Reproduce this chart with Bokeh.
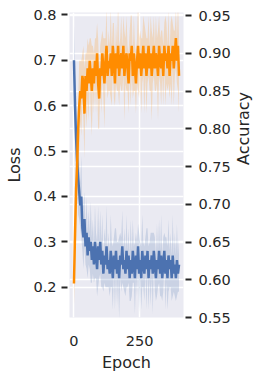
import math
from bokeh.plotting import figure
from bokeh.models import Range1d, LinearAxis, FixedTicker, Grid, PrintfTickFormatter
from bokeh.embed import file_html
from bokeh.resources import INLINE

epochs = [0, 4, 8, 12, 16, 20, 24, 28, 32, 36,
          40, 44, 48, 52, 56, 60, 64, 68, 72, 76,
          80, 84, 88, 92, 96, 100, 104, 108, 112, 116,
          120, 124, 128, 132, 136, 140, 144, 148, 152, 156,
          160, 164, 168, 172, 176, 180, 184, 188, 192, 196,
          200, 204, 208, 212, 216, 220, 224, 228, 232, 236,
          240, 244, 248, 252, 256, 260, 264, 268, 272, 276,
          280, 284, 288, 292, 296, 300, 304, 308, 312, 316,
          320, 324, 328, 332, 336, 340, 344, 348, 352, 356,
          360, 364, 368, 372, 376, 380, 384, 388, 392, 396,
          400]

loss_mean = [0.70, 0.60, 0.53, 0.48, 0.44, 0.41, 0.38, 0.40, 0.33, 0.31,
             0.35, 0.29, 0.32, 0.27, 0.31, 0.28, 0.30, 0.26, 0.29, 0.25,
             0.30, 0.27, 0.24, 0.29, 0.26, 0.30, 0.25, 0.28, 0.23, 0.27,
             0.25, 0.29, 0.24, 0.26, 0.23, 0.28, 0.25, 0.22, 0.27, 0.24,
             0.28, 0.23, 0.26, 0.22, 0.27, 0.25, 0.29, 0.24, 0.26, 0.23,
             0.28, 0.24, 0.27, 0.22, 0.26, 0.23, 0.28, 0.25, 0.22, 0.27,
             0.24, 0.29, 0.23, 0.26, 0.22, 0.28, 0.25, 0.23, 0.27, 0.24,
             0.28, 0.22, 0.26, 0.24, 0.27, 0.23, 0.28, 0.25, 0.22, 0.26,
             0.24, 0.28, 0.23, 0.27, 0.22, 0.25, 0.28, 0.23, 0.26, 0.22,
             0.27, 0.24, 0.26, 0.22, 0.27, 0.23, 0.25, 0.22, 0.26, 0.23,
             0.25]

loss_err = [0.08, 0.07, 0.10, 0.06, 0.08, 0.06, 0.05, 0.09, 0.05, 0.07,
            0.06, 0.04, 0.08, 0.05, 0.06, 0.04, 0.09, 0.05, 0.06, 0.04,
            0.08, 0.05, 0.06, 0.09, 0.04, 0.07, 0.05, 0.08, 0.04, 0.06,
            0.05, 0.09, 0.04, 0.06, 0.05, 0.08, 0.05, 0.07, 0.04, 0.09,
            0.05, 0.07, 0.04, 0.09, 0.05, 0.06, 0.08, 0.04, 0.07, 0.05,
            0.08, 0.04, 0.06, 0.05, 0.09, 0.05, 0.07, 0.04, 0.08, 0.05,
            0.06, 0.05, 0.09, 0.04, 0.07, 0.08, 0.05, 0.06, 0.04, 0.09,
            0.05, 0.07, 0.04, 0.08, 0.05, 0.09, 0.04, 0.06, 0.05, 0.08,
            0.04, 0.07, 0.05, 0.09, 0.05, 0.06, 0.04, 0.08, 0.05, 0.07,
            0.08, 0.04, 0.06, 0.05, 0.09, 0.04, 0.07, 0.05, 0.08, 0.04,
            0.06]

acc_mean = [0.595, 0.66, 0.72, 0.75, 0.80, 0.83, 0.85, 0.84, 0.87, 0.86,
            0.82, 0.87, 0.85, 0.88, 0.86, 0.89, 0.87, 0.85, 0.88, 0.86,
            0.89, 0.87, 0.90, 0.86, 0.84, 0.88, 0.87, 0.90, 0.88, 0.86,
            0.89, 0.91, 0.87, 0.89, 0.88, 0.90, 0.87, 0.91, 0.89, 0.86,
            0.90, 0.88, 0.91, 0.87, 0.89, 0.90, 0.88, 0.91, 0.87, 0.89,
            0.90, 0.88, 0.86, 0.90, 0.89, 0.91, 0.87, 0.90, 0.88, 0.86,
            0.89, 0.91, 0.88, 0.90, 0.87, 0.89, 0.91, 0.88, 0.90, 0.87,
            0.89, 0.91, 0.88, 0.90, 0.87, 0.89, 0.91, 0.88, 0.90, 0.89,
            0.87, 0.91, 0.89, 0.88, 0.90, 0.87, 0.91, 0.89, 0.90, 0.88,
            0.91, 0.87, 0.90, 0.89, 0.91, 0.88, 0.90, 0.92, 0.89, 0.91,
            0.87]

acc_err = [0.03, 0.05, 0.07, 0.05, 0.04, 0.06, 0.04, 0.05, 0.03, 0.05,
           0.06, 0.03, 0.05, 0.04, 0.05, 0.03, 0.05, 0.06, 0.03, 0.04,
           0.03, 0.05, 0.04, 0.06, 0.04, 0.03, 0.05, 0.03, 0.04, 0.06,
           0.03, 0.05, 0.03, 0.04, 0.03, 0.06, 0.04, 0.03, 0.05, 0.03,
           0.04, 0.03, 0.06, 0.04, 0.03, 0.05, 0.03, 0.04, 0.06, 0.03,
           0.05, 0.03, 0.04, 0.03, 0.06, 0.04, 0.03, 0.05, 0.03, 0.04,
           0.03, 0.06, 0.04, 0.03, 0.05, 0.03, 0.04, 0.06, 0.03, 0.05,
           0.03, 0.04, 0.03, 0.05, 0.06, 0.03, 0.04, 0.03, 0.05, 0.03,
           0.06, 0.04, 0.03, 0.05, 0.03, 0.04, 0.03, 0.06, 0.04, 0.03,
           0.05, 0.03, 0.04, 0.06, 0.03, 0.05, 0.03, 0.04, 0.03, 0.06,
           0.05]

x_ticks = [0, 250]
loss_ticks = [0.2, 0.3, 0.4, 0.5, 0.6, 0.7, 0.8]
acc_ticks = [0.55, 0.60, 0.65, 0.70, 0.75, 0.80, 0.85, 0.90, 0.95]

loss_lo = [m - e for m, e in zip(loss_mean, loss_err)]
loss_hi = [m + e for m, e in zip(loss_mean, loss_err)]
acc_lo = [m - e for m, e in zip(acc_mean, acc_err)]
acc_hi = [m + e for m, e in zip(acc_mean, acc_err)]

BLUE = "#4c72b0"
ORANGE = "#ff8c00"
TXT = "#262626"
FONT = "DejaVu Sans"

p = figure(frame_width=114, frame_height=305,
           x_range=Range1d(-17, 417), y_range=Range1d(0.1334, 0.805),
           output_backend="svg", toolbar_location=None,
           min_border_left=69, min_border_right=73,
           min_border_top=12, min_border_bottom=56,
           background_fill_color="#eaeaf2", border_fill_color="white",
           outline_line_color=None)
p.extra_y_ranges = {"acc": Range1d(0.55, 0.954)}

# grids
p.xgrid.ticker = FixedTicker(ticks=x_ticks)
p.ygrid.ticker = FixedTicker(ticks=loss_ticks)
for g in (p.xgrid[0], p.ygrid[0]):
    g.grid_line_color = "white"
    g.grid_line_width = 1.5
acc_grid = Grid(dimension=1, ticker=FixedTicker(ticks=acc_ticks), y_range_name="acc",
                grid_line_color="white", grid_line_width=1.5)
p.add_layout(acc_grid)

# data
p.varea(x=epochs, y1=loss_lo, y2=loss_hi, fill_color=BLUE, fill_alpha=0.2)
p.line(x=epochs, y=loss_mean, line_color=BLUE, line_width=2.5)
p.varea(x=epochs, y1=acc_lo, y2=acc_hi, fill_color=ORANGE, fill_alpha=0.2, y_range_name="acc")
p.line(x=epochs, y=acc_mean, line_color=ORANGE, line_width=2.5, y_range_name="acc")

def style(ax, ticks=True):
    ax.axis_line_color = None
    ax.minor_tick_line_color = None
    ax.major_label_text_font = FONT
    ax.major_label_text_font_size = "14.5px"
    ax.major_label_text_color = TXT
    ax.axis_label_text_font = FONT
    ax.axis_label_text_font_size = "16px"
    ax.axis_label_text_font_style = "normal"
    ax.axis_label_text_color = TXT
    if ticks:
        ax.major_tick_line_color = TXT
        ax.major_tick_line_width = 2
        ax.major_tick_in = -2
        ax.major_tick_out = 8
        ax.major_label_standoff = 5
    else:
        ax.major_tick_line_color = None
        ax.major_tick_in = 0
        ax.major_tick_out = 0

xa = p.xaxis[0]
style(xa, ticks=False)
xa.ticker = FixedTicker(ticks=x_ticks)
xa.formatter = PrintfTickFormatter(format="%d")
xa.axis_label = "Epoch"
xa.major_label_standoff = 18
xa.axis_label_standoff = 4

ya = p.yaxis[0]
style(ya)
ya.ticker = FixedTicker(ticks=loss_ticks)
ya.formatter = PrintfTickFormatter(format="%.1f")
ya.axis_label = "Loss"
ya.axis_label_standoff = 6

ra = LinearAxis(y_range_name="acc")
style(ra)
ra.major_label_standoff = 7
ra.ticker = FixedTicker(ticks=acc_ticks)
ra.formatter = PrintfTickFormatter(format="%.2f")
ra.axis_label = "Accuracy"
ra.axis_label_orientation = math.pi / 2
ra.axis_label_standoff = 10
p.add_layout(ra, "right")

open("out.html", "w").write(file_html(p, INLINE))
